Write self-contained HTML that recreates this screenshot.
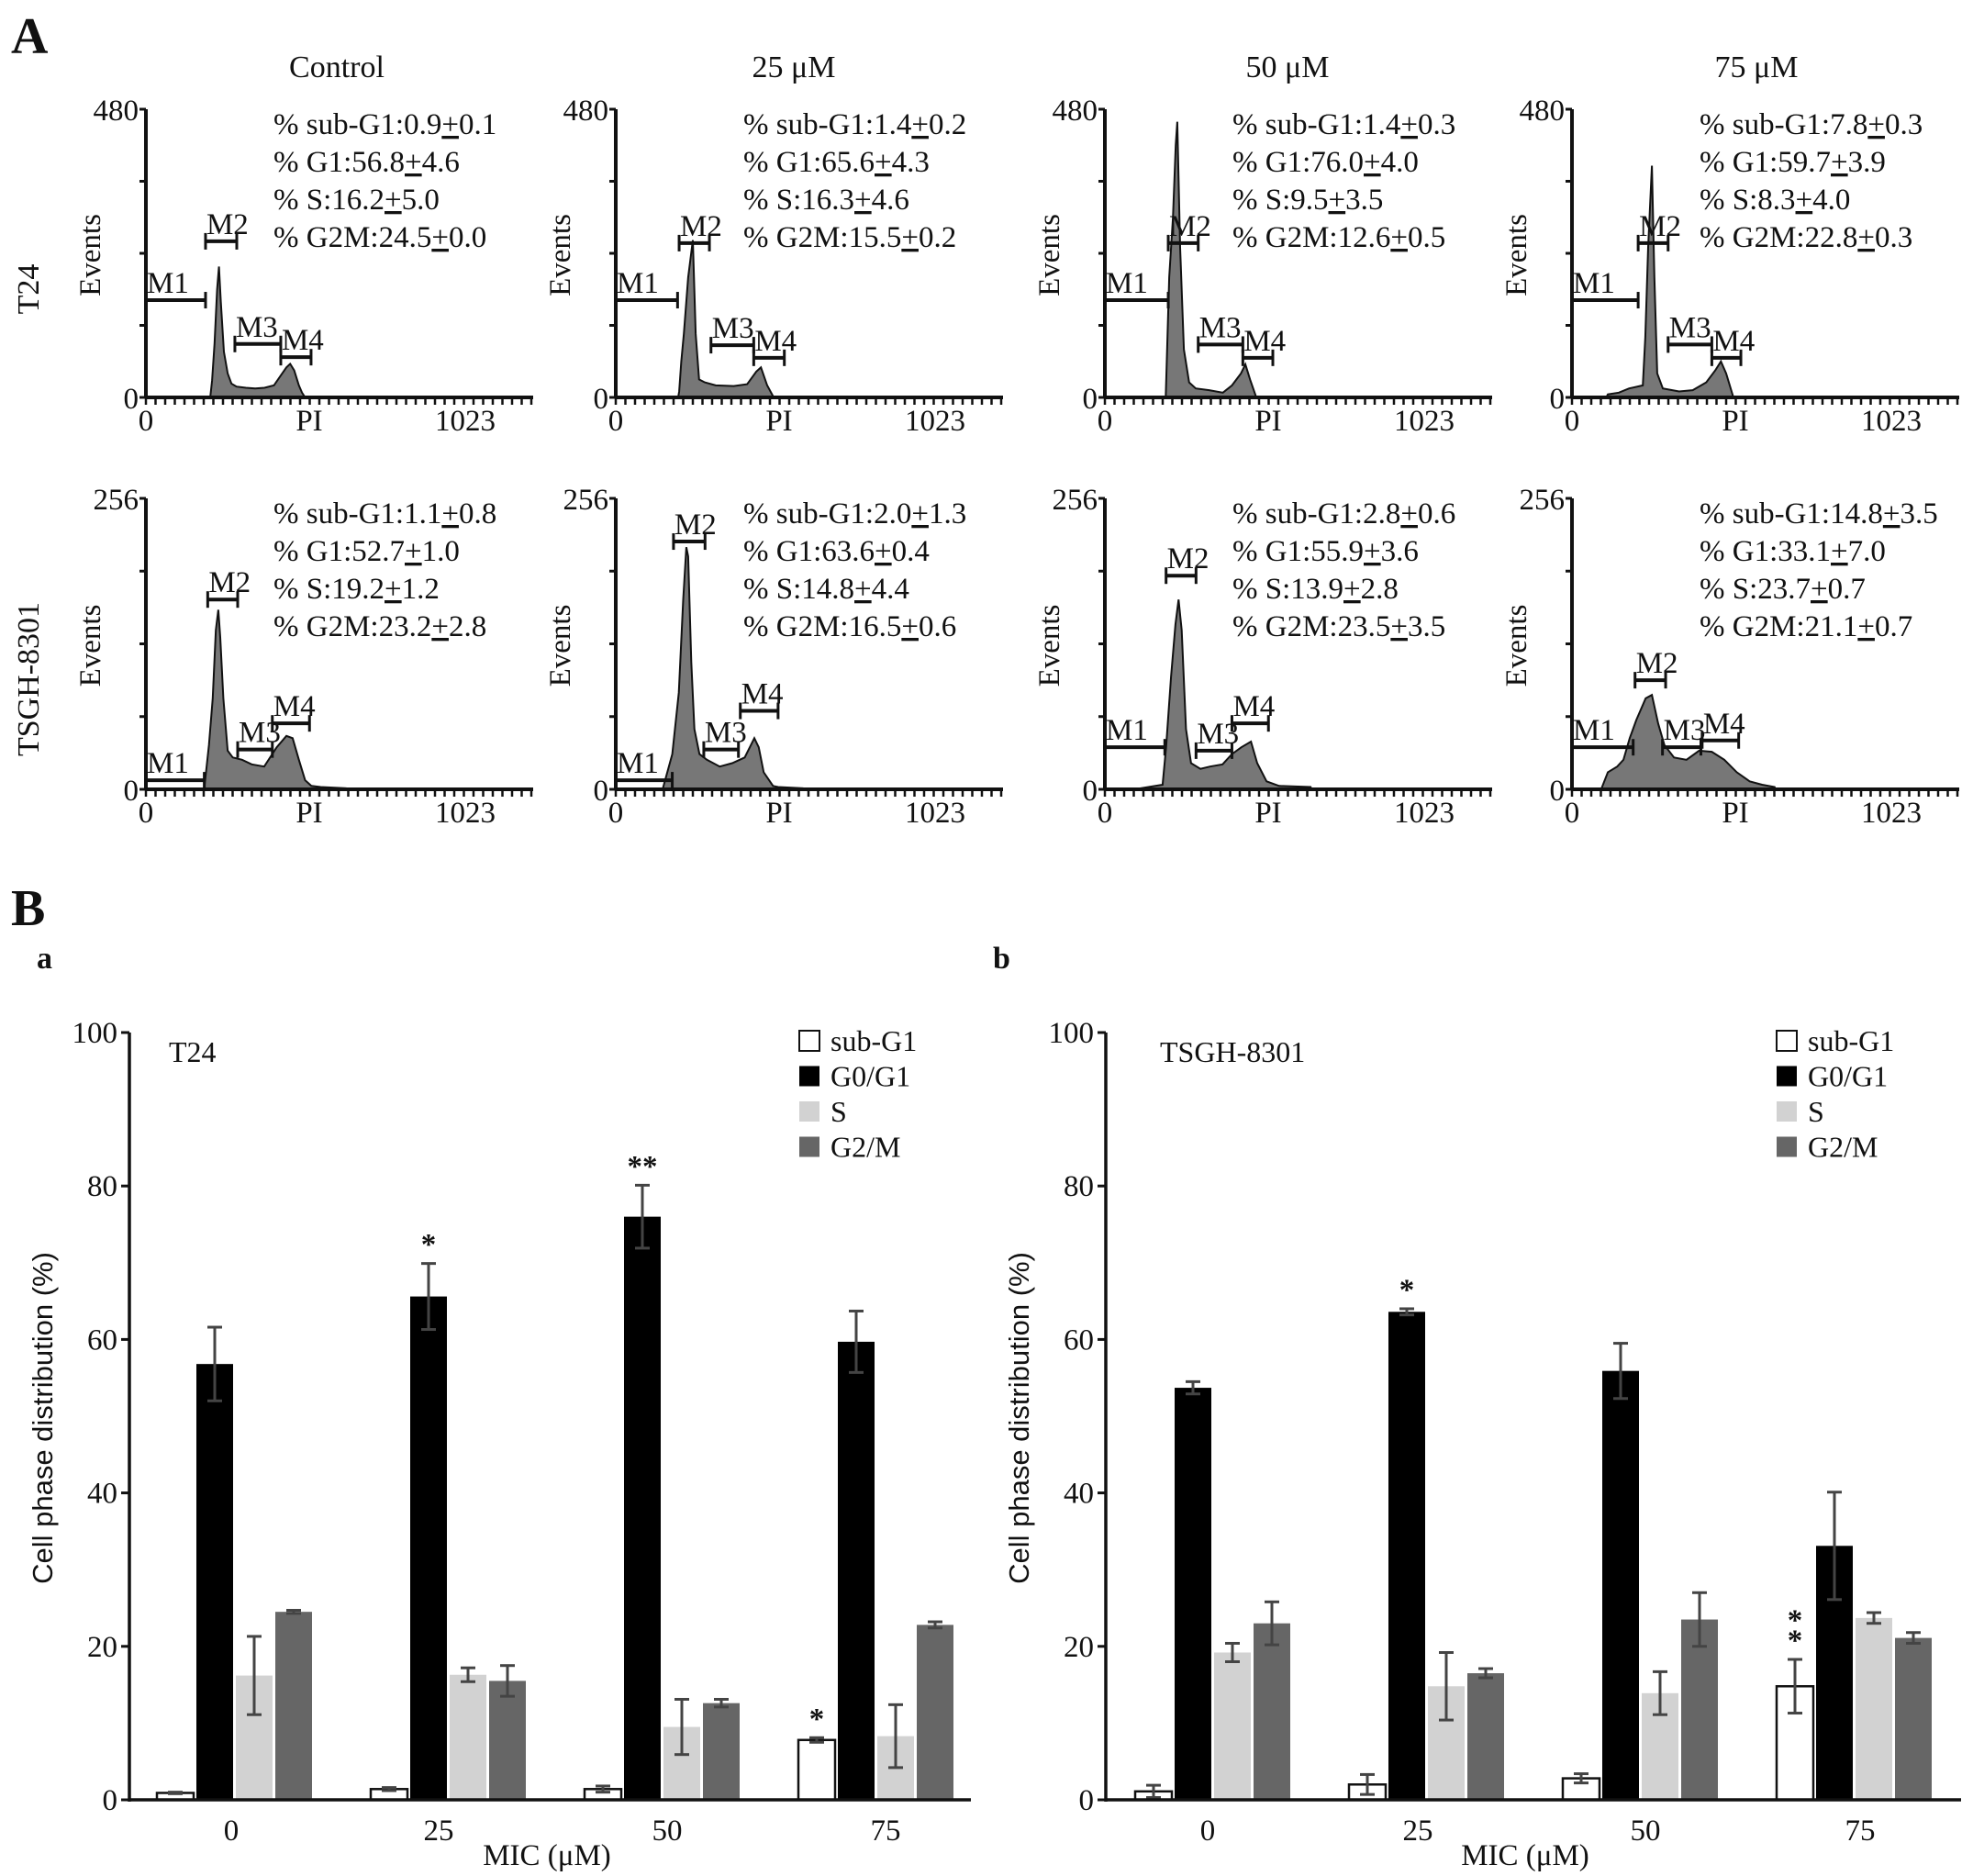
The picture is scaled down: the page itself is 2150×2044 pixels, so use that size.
<!DOCTYPE html>
<html><head><meta charset="utf-8"><style>
html,body{margin:0;padding:0;background:#fff}
svg{display:block}
text{font-family:"Liberation Serif",serif;fill:#111}
.sans{font-family:"Liberation Sans",sans-serif}
</style></head><body>
<svg id="fig" xmlns="http://www.w3.org/2000/svg" width="2150" height="2044" viewBox="0 0 2150 2044">
<text x="12" y="58" font-size="56" font-weight="bold">A</text>
<text x="12" y="1008" font-size="56" font-weight="bold">B</text>
<text x="40" y="1055" font-size="34" font-weight="bold">a</text>
<text x="1082" y="1055" font-size="34" font-weight="bold">b</text>
<text x="367" y="84" font-size="34" text-anchor="middle">Control</text>
<text x="865" y="84" font-size="34" text-anchor="middle">25 μM</text>
<text x="1403" y="84" font-size="34" text-anchor="middle">50 μM</text>
<text x="1914" y="84" font-size="34" text-anchor="middle">75 μM</text>
<text transform="translate(42,315) rotate(-90)" font-size="34" text-anchor="middle">T24</text>
<text transform="translate(42,740) rotate(-90)" font-size="34" text-anchor="middle">TSGH-8301</text>
</svg>
<script>
var NS="http://www.w3.org/2000/svg";
var svg=document.getElementById('fig');
function mk(tag,attrs,parent,txt){var e=document.createElementNS(NS,tag);for(var k in attrs)e.setAttribute(k,attrs[k]);if(txt!==undefined)e.textContent=txt;(parent||svg).appendChild(e);return e;}

// ---------- Histogram data (channel, count) ----------
var histT24Ctrl=[[206,0],[212,28],[220,90],[228,180],[234,218],[240,160],[250,76],[262,40],[274,23],[290,18],[320,16],[350,15],[380,16],[410,20],[430,35],[450,50],[462,56],[475,45],[490,20],[500,8],[510,0]];
var histT24_25=[[200,0],[203,10],[210,60],[218,106],[232,200],[247,262],[256,106],[267,30],[285,25],[320,20],[378,19],[421,22],[450,43],[465,50],[485,20],[506,0]];
var histT24_50=[[195,0],[206,200],[218,300],[227,420],[232,459],[241,250],[253,80],[270,25],[291,15],[334,12],[378,8],[407,20],[436,40],[450,55],[465,30],[485,0]];
var histT24_75=[[110,0],[115,5],[150,8],[183,15],[227,20],[235,100],[244,250],[256,386],[264,200],[273,40],[291,15],[343,10],[387,12],[430,25],[459,45],[477,60],[494,40],[517,0]];
var histTS_Ctrl=[[187,1],[202,39],[214,80],[224,140],[232,158],[238,134],[248,80],[262,34],[278,28],[308,26],[339,22],[379,20],[419,37],[450,47],[470,45],[490,26],[510,8],[530,3],[560,2],[641,1],[645,0]];
var histTS_25=[[151,1],[181,31],[202,85],[216,167],[226,213],[232,205],[242,112],[252,53],[268,31],[292,26],[333,20],[373,23],[413,28],[444,45],[458,37],[474,15],[504,3],[520,2],[600,1],[605,0]];
var histTS_50=[[115,1],[185,4],[196,37],[212,99],[226,145],[236,167],[246,140],[260,53],[276,23],[306,18],[337,20],[377,22],[407,31],[437,37],[468,42],[488,23],[518,7],[558,3],[659,2],[662,0]];
var histTS_75=[[95,1],[115,15],[145,20],[165,26],[185,45],[206,61],[236,80],[256,83],[276,58],[296,39],[327,28],[367,26],[407,34],[448,33],[488,26],[528,15],[569,7],[609,4],[649,2],[652,0]];

// markers: [name, chStart, chEnd, count]
var mkT24Ctrl=[["M1",0,191,162],["M2",191,291,260],["M3",285,432,89],["M4",432,529,67]];
var mkT24_25=[["M1",0,198,162],["M2",203,300,257],["M3",305,442,87],["M4",442,540,66]];
var mkT24_50=[["M1",0,203,162],["M2",203,299,257],["M3",299,442,88],["M4",442,538,66]];
var mkT24_75=[["M1",0,212,162],["M2",212,308,257],["M3",308,448,88],["M4",448,541,66]];
var mkTS_Ctrl=[["M1",0,187,8],["M2",198,294,167],["M3",294,405,35],["M4",405,524,58]];
var mkTS_25=[["M1",0,181,8],["M2",185,286,218],["M3",282,393,35],["M4",399,520,69]];
var mkTS_50=[["M1",0,192,37],["M2",196,292,188],["M3",292,407,34],["M4",407,524,58]];
var mkTS_75=[["M1",0,196,37],["M2",202,300,96],["M3",290,413,37],["M4",417,534,43]];

var txtT24=[["% sub-G1:0.9","0.1"],["% G1:56.8","4.6"],["% S:16.2","5.0"],["% G2M:24.5","0.0"]];
var txtT24_25=[["% sub-G1:1.4","0.2"],["% G1:65.6","4.3"],["% S:16.3","4.6"],["% G2M:15.5","0.2"]];
var txtT24_50=[["% sub-G1:1.4","0.3"],["% G1:76.0","4.0"],["% S:9.5","3.5"],["% G2M:12.6","0.5"]];
var txtT24_75=[["% sub-G1:7.8","0.3"],["% G1:59.7","3.9"],["% S:8.3","4.0"],["% G2M:22.8","0.3"]];
var txtTS=[["% sub-G1:1.1","0.8"],["% G1:52.7","1.0"],["% S:19.2","1.2"],["% G2M:23.2","2.8"]];
var txtTS_25=[["% sub-G1:2.0","1.3"],["% G1:63.6","0.4"],["% S:14.8","4.4"],["% G2M:16.5","0.6"]];
var txtTS_50=[["% sub-G1:2.8","0.6"],["% G1:55.9","3.6"],["% S:13.9","2.8"],["% G2M:23.5","3.5"]];
var txtTS_75=[["% sub-G1:14.8","3.5"],["% G1:33.1","7.0"],["% S:23.7","0.7"],["% G2M:21.1","0.7"]];

function hist(ax,top,bot,ymax,data,marks,lines,textY,id){
  var g=mk('g',{});
  
  
  var xs=function(ch){return ax+ch/1023*348;};
  var ys=function(c){return bot-c/ymax*(bot-top);};
  var d='M'+xs(data[0][0])+','+bot;
  data.forEach(function(p){d+=' L'+xs(p[0]).toFixed(1)+','+ys(p[1]).toFixed(1);});
  d+=' L'+xs(data[data.length-1][0])+','+bot+' Z';
  var a=mk('path',{d:d,fill:'#777',stroke:'#111','stroke-width':2},g);
  
  
  mk('line',{x1:ax,y1:top,x2:ax,y2:bot,stroke:'#111','stroke-width':4},g);
  mk('line',{x1:ax,y1:bot,x2:ax+422,y2:bot,stroke:'#111','stroke-width':4},g);
  for(var i=0;i<=4;i++){var y=bot-i*(bot-top)/4;mk('line',{x1:ax-7,y1:y,x2:ax,y2:y,stroke:'#111','stroke-width':3},g);}
  for(var x=ax;x<=ax+420;x+=10.5){mk('line',{x1:x,y1:bot,x2:x,y2:bot+8,stroke:'#111','stroke-width':2.5},g);}
  mk('text',{x:ax-8,y:top+12,'font-size':33,'text-anchor':'end'},g,String(ymax));
  mk('text',{x:ax-8,y:bot+12,'font-size':33,'text-anchor':'end'},g,'0');
  var ly=bot+36;
  mk('text',{x:ax,y:ly,'font-size':33,'text-anchor':'middle'},g,'0');
  mk('text',{x:ax+178,y:ly,'font-size':33,'text-anchor':'middle'},g,'PI');
  mk('text',{x:ax+348,y:ly,'font-size':33,'text-anchor':'middle'},g,'1023');
  var ev=mk('text',{transform:'translate('+(ax-50)+','+((top+bot)/2+2)+') rotate(-90)','font-size':33,'text-anchor':'middle'},g,'Events');
  
  
  marks.forEach(function(m){
    var x1=xs(m[1]),x2=xs(m[2]),y=ys(m[3]);
    var mg=mk('g',{},g);
    
    
    mk('line',{x1:x1,y1:y,x2:x2,y2:y,stroke:'#111','stroke-width':4},mg);
    mk('line',{x1:x1,y1:y-9,x2:x1,y2:y+9,stroke:'#111','stroke-width':3},mg);
    mk('line',{x1:x2,y1:y-9,x2:x2,y2:y+9,stroke:'#111','stroke-width':3},mg);
    mk('text',{x:x1+1,y:y-8,'font-size':33},mg,m[0]);
  });
  lines.forEach(function(l,i){
    var t=mk('text',{x:ax+139,y:textY+i*41,'font-size':33},g);
    
    
    mk('tspan',{},t,l[0]);
    mk('tspan',{'text-decoration':'underline'},t,'+');
    mk('tspan',{},t,l[1]);
  });
}
var r1t=119,r1b=433,r2t=543,r2b=860;
hist(159,r1t,r1b,480,histT24Ctrl,mkT24Ctrl,txtT24,146,'t24-control');
hist(671,r1t,r1b,480,histT24_25,mkT24_25,txtT24_25,146,'t24-25');
hist(1204,r1t,r1b,480,histT24_50,mkT24_50,txtT24_50,146,'t24-50');
hist(1713,r1t,r1b,480,histT24_75,mkT24_75,txtT24_75,146,'t24-75');
hist(159,r2t,r2b,256,histTS_Ctrl,mkTS_Ctrl,txtTS,570,'tsgh-control');
hist(671,r2t,r2b,256,histTS_25,mkTS_25,txtTS_25,570,'tsgh-25');
hist(1204,r2t,r2b,256,histTS_50,mkTS_50,txtTS_50,570,'tsgh-50');
hist(1713,r2t,r2b,256,histTS_75,mkTS_75,txtTS_75,570,'tsgh-75');

// ---------- Bar chart data ----------
var categories=["0","25","50","75"];
var seriesNames=["sub-G1","G0/G1","S","G2/M"];
var seriesColors=["#fff","#000","#d2d2d2","#666"];
var t24SubG1=[0.9,1.4,1.4,7.8], t24SubG1Err=[0.1,0.2,0.4,0.3];
var t24G1=[56.8,65.6,76.0,59.7], t24G1Err=[4.8,4.3,4.1,4.0];
var t24S=[16.2,16.3,9.5,8.3], t24SErr=[5.1,0.9,3.6,4.1];
var t24G2M=[24.5,15.5,12.6,22.8], t24G2MErr=[0.2,2.0,0.5,0.4];
var tsSubG1=[1.1,2.0,2.8,14.8], tsSubG1Err=[0.8,1.3,0.6,3.5];
var tsG1=[53.7,63.6,55.9,33.1], tsG1Err=[0.8,0.4,3.6,7.0];
var tsS=[19.2,14.8,13.9,23.7], tsSErr=[1.2,4.4,2.8,0.7];
var tsG2M=[23.0,16.5,23.5,21.1], tsG2MErr=[2.8,0.6,3.5,0.7];
var yTicks=[0,20,40,60,80,100];
var t24Stars=[[1,1,"*"],[2,1,"**"],[3,0,"*"]];
var tsStars=[[1,1,"*"],[3,0,"*\n*"]];

function barChart(id,axX,axEnd,base,tickXs,title,vals,errs,stars,legX,titleX,xTitleX){
  var g=mk('g',{});
  
  
  var y0=1961,y100=1125;
  var ys=function(v){return y0-v/100*(y0-y100);};
  vals.forEach(function(arr,s){
    arr.forEach(function(v,c){
      var x=base+c*233+s*43;
      var r=mk('rect',{x:x,y:ys(v),width:40,height:y0-ys(v),fill:seriesColors[s],stroke:s===0?'#111':'none','stroke-width':2.5},g);
      
      
      var e=errs[s][c],cx=x+20;
      var eg=mk('g',{stroke:'#444','stroke-width':3},g);
      
      
      mk('line',{x1:cx,y1:ys(v+e),x2:cx,y2:ys(v-e)},eg);
      mk('line',{x1:cx-8,y1:ys(v+e),x2:cx+8,y2:ys(v+e)},eg);
      mk('line',{x1:cx-8,y1:ys(v-e),x2:cx+8,y2:ys(v-e)},eg);
    });
  });
  stars.forEach(function(st){
    var c=st[0],s=st[1],v=vals[s][c]+errs[s][c];
    var cx=base+c*233+s*43+20;
    var parts=st[2].split("\n");
    parts.forEach(function(p,i){
      var t=mk('text',{x:cx,y:ys(v)-10-(parts.length-1-i)*22,'font-size':33,'text-anchor':'middle','font-weight':'bold'},g,p);
      
      
    });
  });
  mk('line',{x1:axX,y1:y100,x2:axX,y2:y0+2,stroke:'#111','stroke-width':3.5},g);
  mk('line',{x1:axX,y1:y0,x2:axEnd,y2:y0,stroke:'#111','stroke-width':3.5},g);
  yTicks.forEach(function(t){
    mk('line',{x1:axX-9,y1:ys(t),x2:axX,y2:ys(t),stroke:'#111','stroke-width':3},g);
    var l=mk('text',{x:axX-13,y:ys(t)+11,'font-size':33,'text-anchor':'end'},g,String(t));
    
    
  });
  categories.forEach(function(c,i){
    var l=mk('text',{x:tickXs[i],y:2005,'font-size':33,'text-anchor':'middle'},g,c);
    
    
  });
  var xt=mk('text',{x:xTitleX,y:2032,'font-size':33,'text-anchor':'middle'},g,'MIC (μM)');
  
  
  var yt=mk('text',{transform:'translate('+(axX-84)+',1545) rotate(-90)','font-size':31,'text-anchor':'middle','class':'sans'},g,'Cell phase distribution (%)');
  
  
  var tt=mk('text',{x:titleX,y:1157,'font-size':32},g,title);
  
  
  seriesNames.forEach(function(n,i){
    var ly=1134+i*38.5;
    var lg=mk('g',{},g);
    
    
    mk('rect',{x:legX,y:ly-11,width:22,height:22,fill:seriesColors[i],stroke:i===0?'#111':'none','stroke-width':2},lg);
    mk('text',{x:legX+34,y:ly+11,'font-size':32},lg,n);
  });
}
barChart('t24',141,1058,171,[252,478,727,965],'T24',[t24SubG1,t24G1,t24S,t24G2M],[t24SubG1Err,t24G1Err,t24SErr,t24G2MErr],t24Stars,871,184,596);
barChart('tsgh',1205,2137,1237,[1316,1545,1793,2027],'TSGH-8301',[tsSubG1,tsG1,tsS,tsG2M],[tsSubG1Err,tsG1Err,tsSErr,tsG2MErr],tsStars,1936,1264,1662);
</script>
</body></html>
